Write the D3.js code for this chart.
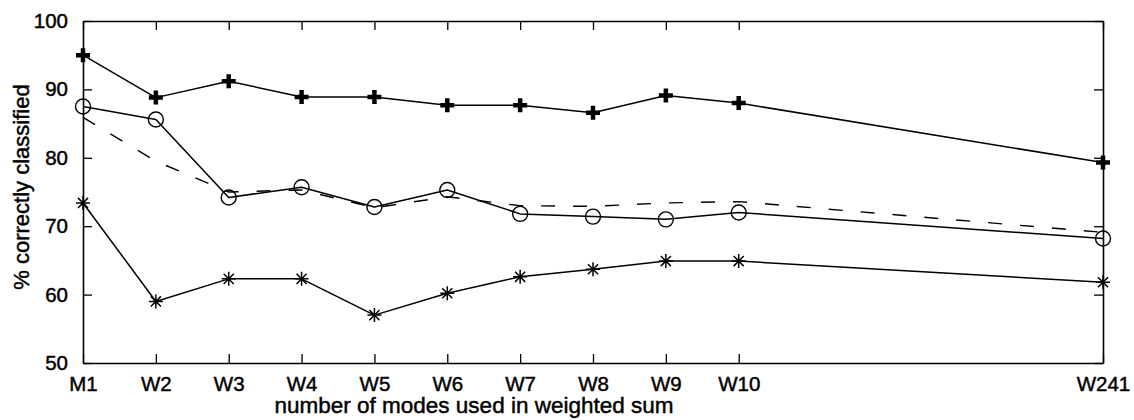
<!DOCTYPE html>
<html>
<head>
<meta charset="utf-8">
<script src="https://cdn.jsdelivr.net/npm/d3@7"></script>
<style>
	body { margin: 0; background: #fff; }
	text { font-family: Arial, "Liberation Sans", Helvetica, sans-serif; fill: #000; stroke: #000; stroke-width: 0.45px; }
</style>
</head>
<body>
<div id="chart"></div>
<script>
// categories along the x axis and the slot each one sits in
const categories = ['M1', 'W2', 'W3', 'W4', 'W5', 'W6', 'W7', 'W8', 'W9', 'W10', 'W241'];
const slots      = [1, 2, 3, 4, 5, 6, 7, 8, 9, 10, 15];

// % correctly classified, one array per curve
const plusValues   = [95.0, 88.8, 91.2, 88.9, 88.9, 87.7, 87.7, 86.6, 89.1, 88.0, 79.3];
const circleValues = [87.5, 85.6, 74.2, 75.7, 72.8, 75.3, 71.8, 71.4, 71.0, 72.0, 68.2];
const dashedValues = [85.9, 79.5, 75.0, 75.3, 72.7, 74.3, 73.0, 72.9, 73.4, 73.6, 69.1];
const starValues   = [73.4, 59.0, 62.3, 62.3, 57.0, 60.2, 62.6, 63.7, 64.9, 64.9, 61.8];

const yTicks = [50, 60, 70, 80, 90, 100];

const W = 1134, H = 420;
const margin = {top: 21, right: 31, bottom: 57, left: 83};
const width  = W - margin.left - margin.right,
	height = H - margin.top - margin.bottom;

const svg = d3.select('#chart').append('svg')
	.attr('width', W)
	.attr('height', H);

const g = svg.append('g')
	.attr('transform', 'translate(' + margin.left + ',' + margin.top + ')');

const x = d3.scaleLinear().domain([1, 15]).range([0, width]);
const y = d3.scaleLinear().domain([50, 100]).range([height, 0]);

const tickLen = 9;

// axes, ticks pointing inward on every side
const xBottom = g.append('g')
	.attr('transform', 'translate(0,' + height + ')')
	.call(d3.axisBottom(x).tickValues(slots)
		.tickFormat(function(d, i) { return categories[i]; })
		.tickSizeInner(-tickLen).tickSizeOuter(0).tickPadding(tickLen + 5));

const xTop = g.append('g')
	.call(d3.axisTop(x).tickValues(slots).tickFormat('')
		.tickSizeInner(-tickLen).tickSizeOuter(0));

const yLeft = g.append('g')
	.call(d3.axisLeft(y).tickValues(yTicks)
		.tickSizeInner(-tickLen).tickSizeOuter(0).tickPadding(tickLen + 6));

const yRight = g.append('g')
	.attr('transform', 'translate(' + width + ',0)')
	.call(d3.axisRight(y).tickValues(yTicks).tickFormat('')
		.tickSizeInner(-tickLen).tickSizeOuter(0));

[xBottom, xTop, yLeft, yRight].forEach(function(a) {
	a.select('.domain').attr('stroke', '#000').attr('stroke-width', 1.6);
	a.selectAll('.tick line').attr('stroke', '#000').attr('stroke-width', 1.3);
	a.selectAll('.tick text')
		.attr('font-size', 20.5)
		.attr('font-family', 'Arial, "Liberation Sans", sans-serif')
		.attr('fill', '#000')
		.attr('stroke', '#000');
});
xBottom.selectAll('.tick text').attr('dy', '0.66em');

// axis titles
svg.append('text')
	.attr('x', 474)
	.attr('y', 413)
	.attr('text-anchor', 'middle')
	.attr('font-size', 22.5)
	.text('number of modes used in weighted sum');

svg.append('text')
	.attr('transform', 'translate(29,187) rotate(-90)')
	.attr('text-anchor', 'middle')
	.attr('font-size', 22)
	.text('% correctly classified');

function pts(values) {
	return values.map(function(v, i) { return {x: slots[i], y: v}; });
}

const line = d3.line()
	.x(function(d) { return x(d.x); })
	.y(function(d) { return y(d.y); });

// dashed curve (no markers)
g.append('path')
	.datum(pts(dashedValues))
	.attr('fill', 'none')
	.attr('stroke', '#000')
	.attr('stroke-width', 1.4)
	.attr('stroke-dasharray', '14,18')
	.attr('d', line);

[plusValues, circleValues, starValues].forEach(function(vals) {
	g.append('path')
		.datum(pts(vals))
		.attr('fill', 'none')
		.attr('stroke', '#000')
		.attr('stroke-width', 1.5)
		.attr('stroke-linejoin', 'round')
		.attr('d', line);
});

// bold plus markers
g.append('g').selectAll('path')
	.data(pts(plusValues)).enter().append('path')
	.attr('transform', function(d) { return 'translate(' + x(d.x) + ',' + y(d.y) + ')'; })
	.attr('d', 'M-7,0H7M0,-7V7')
	.attr('stroke', '#000')
	.attr('stroke-width', 4.5);

// open circles
g.append('g').selectAll('circle')
	.data(pts(circleValues)).enter().append('circle')
	.attr('cx', function(d) { return x(d.x); })
	.attr('cy', function(d) { return y(d.y); })
	.attr('r', 7.5)
	.attr('fill', 'none')
	.attr('stroke', '#000')
	.attr('stroke-width', 1.4);

// asterisks
const s = 7, k = s * 0.72;
g.append('g').selectAll('path')
	.data(pts(starValues)).enter().append('path')
	.attr('transform', function(d) { return 'translate(' + x(d.x) + ',' + y(d.y) + ')'; })
	.attr('d', 'M' + -s + ',0H' + s + 'M0,' + -s + 'V' + s +
		'M' + -k + ',' + -k + 'L' + k + ',' + k + 'M' + -k + ',' + k + 'L' + k + ',' + -k)
	.attr('stroke', '#000')
	.attr('stroke-width', 1.5);
</script>
</body>
</html>
